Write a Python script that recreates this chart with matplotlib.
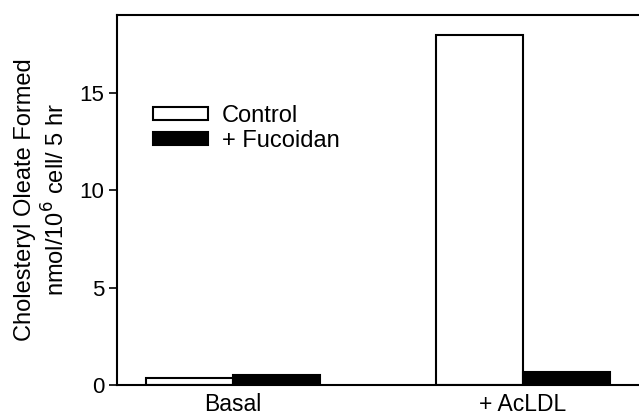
import numpy as np
import matplotlib.pyplot as plt

plt.rcParams['font.family'] = ['Liberation Sans', 'DejaVu Sans']

CONDITIONS = ["Basal", "+ AcLDL"]
CONTROL = [0.37, 17.95]
FUCOIDAN = [0.5, 0.65]


def main():
    fig = plt.figure(figsize=(6.39, 4.17), dpi=100)
    ax = fig.add_axes([0.183, 0.077, 0.817, 0.887])

    x = np.arange(len(CONDITIONS))
    width = 0.30
    ax.bar(x - width / 2, CONTROL, width, color="white", edgecolor="black",
           linewidth=1.5, label="Control")
    ax.bar(x + width / 2, FUCOIDAN, width, color="black", edgecolor="black",
           linewidth=1.5, label="+ Fucoidan")

    ax.set_xlim(-0.4, 1.4)
    ax.set_ylim(0, 19)
    ax.set_yticks([0, 5, 10, 15])
    ax.set_xticks(x)
    ax.set_xticklabels(CONDITIONS)
    ax.tick_params(axis="x", length=0, pad=6, labelsize=16.5)
    ax.tick_params(axis="y", direction="out", length=6, width=1.2,
                   labelsize=16, pad=3)
    ax.spines["right"].set_visible(False)
    for s in ("left", "top", "bottom"):
        ax.spines[s].set_linewidth(1.5)

    ax.set_ylabel("Cholesteryl Oleate Formed\nnmol/10$^6$ cell/ 5 hr",
                  fontsize=17, labelpad=7, linespacing=1.3)

    ax.legend(loc="upper left", bbox_to_anchor=(0.069, 0.756), frameon=False,
              fontsize=17, handlelength=2.33, handleheight=0.47,
              handletextpad=0.6, labelspacing=0.1, borderaxespad=0,
              borderpad=0)

    fig.savefig("out.png", dpi=100)


if __name__ == "__main__":
    main()
